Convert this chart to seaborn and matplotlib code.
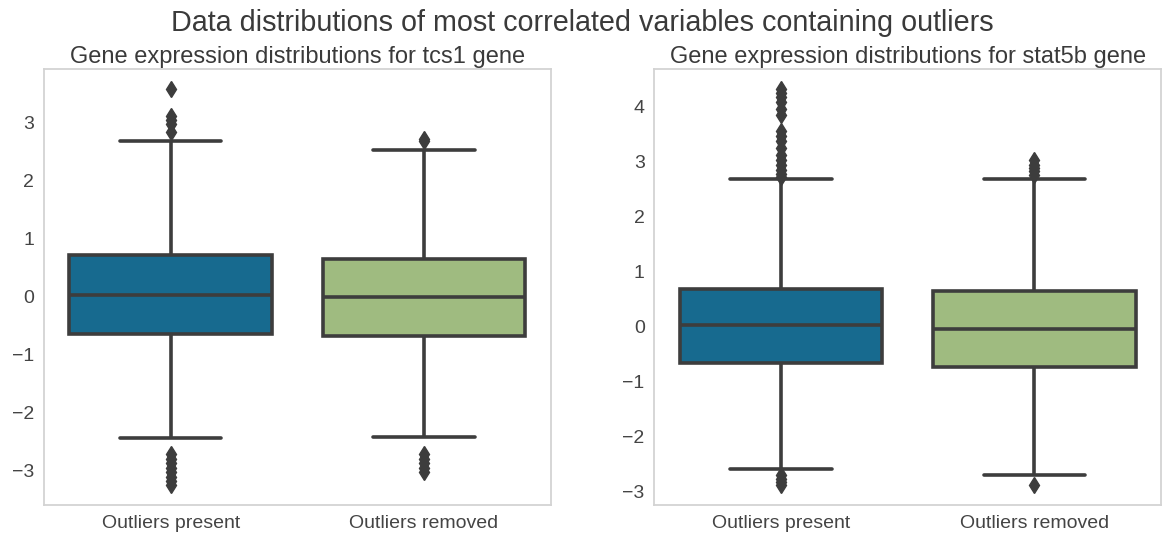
import numpy as np
import pandas as pd
import matplotlib
matplotlib.use("Agg")
import matplotlib.pyplot as plt
import seaborn as sns

# ---------------- data ----------------
groups = ["Outliers present", "Outliers removed"]
box_colors = ["#176a8f", "#9fbb80"]

# five-number summaries: [lower whisker, Q1, median, Q3, upper whisker]
tcs1_present_summary = [-2.45, -0.64, 0.03, 0.72, 2.68]
tcs1_present_fliers = [2.84, 2.98, 3.05, 3.12, 3.59,
                       -2.72, -2.80, -2.88, -2.96, -3.04, -3.12, -3.19, -3.26]
tcs1_removed_summary = [-2.42, -0.69, -0.01, 0.65, 2.54]
tcs1_removed_fliers = [2.68, 2.72, -2.72, -2.80, -2.88, -2.96, -3.03]

stat5b_present_summary = [-2.59, -0.667, 0.03, 0.68, 2.685]
stat5b_present_fliers = [2.72, 2.78, 2.85, 2.93, 3.02, 3.12, 3.25, 3.38, 3.47, 3.55,
                         3.85, 3.95, 4.08, 4.18, 4.25, 4.32,
                         -2.70, -2.76, -2.82, -2.88]
stat5b_removed_summary = [-2.70, -0.74, -0.04, 0.65, 2.685]
stat5b_removed_fliers = [2.76, 2.82, 2.88, 2.94, 3.02, -2.88]

suptitle = "Data distributions of most correlated variables containing outliers"
titles = ["Gene expression distributions for tcs1 gene",
          "Gene expression distributions for stat5b gene"]


def sample_from_summary(summary, fliers, weight=30):
    """Observations whose quartiles/whiskers reproduce the read summary."""
    lo, q1, med, q3, hi = summary
    vals = list(fliers) + [lo] + [q1] * weight + [med] * weight + [q3] * weight + [hi]
    return vals


def frame(present_summary, present_fliers, removed_summary, removed_fliers):
    a = sample_from_summary(present_summary, present_fliers)
    b = sample_from_summary(removed_summary, removed_fliers)
    return pd.DataFrame({"group": [groups[0]] * len(a) + [groups[1]] * len(b),
                         "value": a + b})


panels = [
    frame(tcs1_present_summary, tcs1_present_fliers,
          tcs1_removed_summary, tcs1_removed_fliers),
    frame(stat5b_present_summary, stat5b_present_fliers,
          stat5b_removed_summary, stat5b_removed_fliers),
]

# ---------------- style ----------------
sns.set_theme(style="white")
plt.rcParams["font.family"] = ["Liberation Sans", "DejaVu Sans"]
line_col = "#3d3d3d"
text_col = "#444444"

fig, axes = plt.subplots(1, 2, figsize=(11.64, 5.39), dpi=100)
fig.subplots_adjust(left=0.0378, right=0.9974, bottom=0.063, top=0.872, wspace=0.205)

for ax, df, title in zip(axes, panels, titles):
    sns.boxplot(data=df, x="group", y="value", hue="group", palette=box_colors,
                legend=False, ax=ax, saturation=1, linewidth=2.6, linecolor=line_col,
                width=0.8, fliersize=8,
                flierprops=dict(marker="d", markerfacecolor=line_col,
                                markeredgecolor=line_col))
    ax.set_xlabel("")
    ax.set_ylabel("")
    ax.set_title(title, fontsize=17, color="#3a3a3a", pad=4)
    ax.tick_params(axis="both", length=0, pad=7, labelsize=14, labelcolor=text_col)
    for sp in ax.spines.values():
        sp.set_color("#d3d3d3")
        sp.set_linewidth(1.3)
    ax.grid(False)

fig.suptitle(suptitle, fontsize=20.7, color="#3a3a3a", y=0.958, va="center")
fig.savefig("out.png", dpi=100)
